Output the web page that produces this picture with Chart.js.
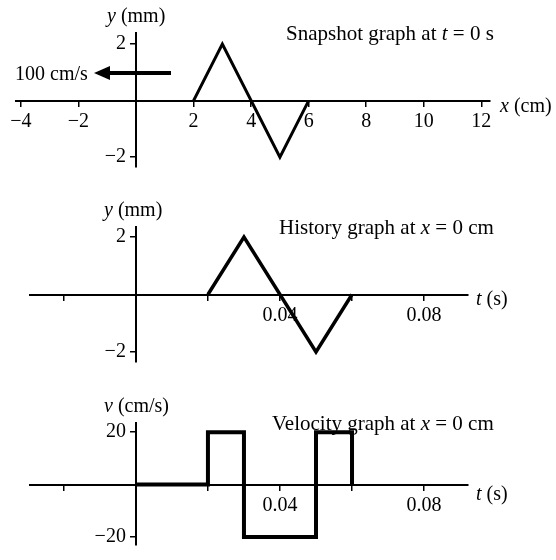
<!DOCTYPE html>
<html>
<head>
<meta charset="utf-8">
<script src="https://cdn.jsdelivr.net/npm/chart.js"></script>
<style>
  body { margin: 0; background: #fff; }
  #wrap { position: relative; width: 556px; height: 560px; overflow: hidden; font-family: "Liberation Serif", serif; font-size: 20px; color: #000; }
  canvas { position: absolute; left: 0; }
  .lbl { position: absolute; white-space: nowrap; line-height: 20px; transform: translateY(-50%); }
  .ttl { font-size: 21px; }
  i { font-style: italic; }
</style>
</head>
<body>
<div id="wrap">
  <canvas id="snap" width="556" height="190" style="top:0"></canvas>
  <canvas id="hist" width="556" height="190" style="top:190px"></canvas>
  <canvas id="vel" width="556" height="180" style="top:380px"></canvas>

  <div class="lbl" style="left:107px;top:15px"><i>y</i> (mm)</div>
  <div class="lbl ttl" style="left:286px;top:33px">Snapshot graph at <i>t</i> = 0 s</div>
  <div class="lbl" style="left:500px;top:105px"><i>x</i> (cm)</div>
  <div class="lbl" style="left:15px;top:73px">100 cm/s</div>
  <svg style="position:absolute;left:0;top:0" width="200" height="100">
    <line x1="171" y1="73" x2="106" y2="73" stroke="#000" stroke-width="4"/>
    <polygon points="94,73,110,66,110,80" fill="#000"/>
  </svg>

  <div class="lbl" style="left:104px;top:209px"><i>y</i> (mm)</div>
  <div class="lbl ttl" style="left:279px;top:227px">History graph at <i>x</i> = 0 cm</div>
  <div class="lbl" style="left:476px;top:298px"><i>t</i> (s)</div>

  <div class="lbl" style="left:104px;top:405px"><i>v</i> (cm/s)</div>
  <div class="lbl ttl" style="left:272px;top:423px">Velocity graph at <i>x</i> = 0 cm</div>
  <div class="lbl" style="left:476px;top:493px"><i>t</i> (s)</div>
</div>
<script>
// snapshot graph, t = 0 s
var snapX = [2, 3, 5, 6];
var snapY = [0, 2, -2, 0];
var snapXTicks = [-4, -2, 2, 4, 6, 8, 10, 12];
var snapYTicks = [-2, 2];

// history graph, x = 0 cm
var histT = [0.02, 0.03, 0.05, 0.06];
var histY = [0, 2, -2, 0];
var histYTicks = [-2, 2];

// velocity graph, x = 0 cm
var velT = [0, 0.02, 0.02, 0.03, 0.03, 0.05, 0.05, 0.06, 0.06];
var velV = [0, 0, 20, 20, -20, -20, 20, 20, 0];
var velYTicks = [-20, 20];

var timeTicks = [-0.02, 0.02, 0.04, 0.06, 0.08];
var timeLabels = ['0.04', '0.08'];

function pts(xs, ys) {
  return xs.map(function (x, i) { return { x: x, y: ys[i] }; });
}

function minus(v) {
  return String(v).replace('-', '\u2212');
}

var font = { family: 'Liberation Serif', size: 20 };

function build(id, data, c) {
  return new Chart(document.getElementById(id), {
    type: 'scatter',
    data: {
      datasets: [{
        data: data,
        showLine: true,
        borderColor: '#000',
        borderWidth: c.lw,
        pointRadius: 0,
        tension: 0,
        borderJoinStyle: 'miter'
      }]
    },
    options: {
      responsive: false,
      animation: false,
      layout: { padding: c.pad },
      plugins: { legend: { display: false }, tooltip: { enabled: false } },
      scales: {
        x: {
          type: 'linear', min: c.xmin, max: c.xmax,
          position: { y: 0 },
          afterFit: function (s) { s.height = 0; },
          afterBuildTicks: function (s) { s.ticks = c.xticks.map(function (v) { return { value: v }; }); },
          border: { color: '#000', width: 2 },
          grid: { drawOnChartArea: false, drawTicks: true, tickLength: 5, color: '#000', lineWidth: 1.5 },
          ticks: { color: '#000', font: font, padding: 4, maxRotation: 0, autoSkip: false, callback: c.xfmt }
        },
        y: {
          type: 'linear', min: c.ymin, max: c.ymax,
          position: { x: 0 },
          afterFit: function (s) { s.width = 0; },
          afterBuildTicks: function (s) { s.ticks = c.yticks.map(function (v) { return { value: v }; }); },
          border: { color: '#000', width: 2 },
          grid: { drawOnChartArea: false, drawTicks: true, tickLength: 5, color: '#000', lineWidth: 1.5 },
          // labels sit right-aligned on the axis here, so pad them off it
          ticks: { color: '#000', font: font, autoSkip: false, callback: function (v) { return minus(v) + '\u2002'; } }
        }
      }
    }
  });
}

function timeFmt(v) {
  var s = v.toFixed(2);
  return timeLabels.indexOf(s) >= 0 ? s : '';
}

build('snap', pts(snapX, snapY), {
  lw: 3, pad: { top: 33, bottom: 23, left: 16, right: 66 },
  xmin: -4.17, xmax: 12.3, ymin: -2.35, ymax: 2.39,
  xticks: snapXTicks, yticks: snapYTicks,
  xfmt: function (v) { return minus(v); }
});

build('hist', pts(histT, histY), {
  lw: 3.5, pad: { top: 37, bottom: 18, left: 30, right: 88 },
  xmin: -0.0294, xmax: 0.0922, ymin: -2.35, ymax: 2.35,
  xticks: timeTicks, yticks: histYTicks, xfmt: timeFmt
});

build('vel', pts(velT, velV), {
  lw: 4, pad: { top: 43, bottom: 3, left: 30, right: 88 },
  xmin: -0.0294, xmax: 0.0922, ymin: -23.1, ymax: 23.5,
  xticks: timeTicks, yticks: velYTicks, xfmt: timeFmt
});
</script>
</body>
</html>
